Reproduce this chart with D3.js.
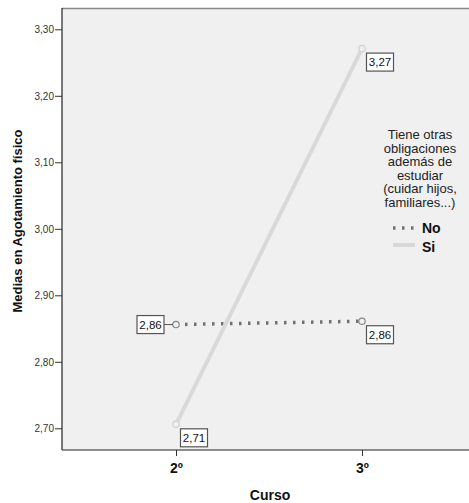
<!DOCTYPE html>
<html><head><meta charset="utf-8">
<script src="https://cdn.jsdelivr.net/npm/d3@7"></script>
<style>body{margin:0;background:#fff}svg{display:block;font-family:"Liberation Sans",Arial,sans-serif}</style>
</head><body>
<svg id="c" width="469" height="503"></svg>
<script>
const categories = ["2º", "3º"];
const seriesNames = ["No", "Si"];
const noValues = [2.856, 2.861];
const siValues = [2.706, 3.271];
const yTicks = [2.70, 2.80, 2.90, 3.00, 3.10, 3.20, 3.30];
const legendTitle = ["Tiene otras", "obligaciones", "además de", "estudiar", "(cuidar hijos,", "familiares...)"];

const svg = d3.select("#c");
const L = 62, R = 469, T = 8, B = 450;
const x = d3.scalePoint().domain(categories).range([176, 362]);
const y = d3.scaleLinear().domain([2.70, 3.30]).range([428.3, 29.3]);
const fmt = v => d3.format(".2f")(v).replace(".", ",");

svg.append("rect").attr("x", L).attr("y", T).attr("width", R - L).attr("height", B - T).attr("fill", "#f0f0f0");
svg.append("line").attr("x1", L).attr("x2", R).attr("y1", T + 0.5).attr("y2", T + 0.5).attr("stroke", "#888").attr("stroke-width", 1.5);

// y axis
const ya = svg.append("g").attr("transform", `translate(${L},0)`)
  .call(d3.axisLeft(y).tickValues(yTicks).tickFormat(fmt).tickSize(7).tickSizeOuter(0));
ya.select(".domain").remove();
ya.selectAll(".tick line").attr("stroke", "#333");
ya.selectAll(".tick text").attr("font-size", 10).attr("fill", "#333").attr("x", -8).attr("font-family", "Liberation Sans, Arial, sans-serif");
svg.append("line").attr("x1", L).attr("x2", L).attr("y1", T).attr("y2", B).attr("stroke", "#222").attr("stroke-width", 1.2);

// x axis
const xa = svg.append("g").attr("transform", `translate(0,${B})`)
  .call(d3.axisBottom(x).tickSize(6).tickSizeOuter(0));
xa.select(".domain").remove();
xa.selectAll(".tick line").attr("stroke", "#333");
xa.selectAll(".tick text").attr("font-size", 14).attr("font-weight", "bold").attr("fill", "#111").attr("y", 9).attr("dy", "1.0em").attr("font-family", "Liberation Sans, Arial, sans-serif");
svg.append("line").attr("x1", L).attr("x2", R).attr("y1", B).attr("y2", B).attr("stroke", "#222").attr("stroke-width", 1.2);

svg.append("text").attr("x", 270).attr("y", 500).attr("text-anchor", "middle").attr("font-size", 14).attr("font-weight", "bold").attr("fill", "#111").text("Curso");
svg.append("text").attr("transform", `translate(21.5,221) rotate(-90)`).attr("text-anchor", "middle").attr("font-size", 13).attr("font-weight", "bold").attr("fill", "#111").text("Medias en Agotamiento físico");

const series = [
  {name: seriesNames[0], values: noValues, color: "#707070", width: 3.5, dash: "2.5,6.5", labelPos: ["left", "br"]},
  {name: seriesNames[1], values: siValues, color: "#d9d9d9", width: 4, dash: null, labelPos: ["br", "br"]}
];
const line = d3.line().x((d, i) => x(categories[i])).y(d => y(d));

series.forEach(s => {
  svg.append("path").datum(s.values).attr("d", line).attr("fill", "none")
    .attr("stroke", s.color).attr("stroke-width", s.width).attr("stroke-dasharray", s.dash);
});
series.forEach(s => {
  s.values.forEach((v, i) => {
    const px = x(categories[i]), py = y(v);
    svg.append("circle").attr("cx", px).attr("cy", py).attr("r", 3.2).attr("fill", "#f0f0f0").attr("stroke", s.color === "#d9d9d9" ? "#d0d0d0" : "#888").attr("stroke-width", 1.2);
  });
});
// labels
series.forEach(s => {
  s.values.forEach((v, i) => {
    const px = x(categories[i]), py = y(v);
    const w = 27, h = 18;
    let bx, by;
    if (s.labelPos[i] === "left") {
      bx = px - 12 - w; by = py - h / 2;
      svg.append("line").attr("x1", bx + w).attr("x2", px - 3).attr("y1", py).attr("y2", py).attr("stroke", "#555").attr("stroke-width", 1);
    } else {
      bx = px + 4.5; by = py + 4.5;
    }
    svg.append("rect").attr("x", bx).attr("y", by).attr("width", w).attr("height", h).attr("fill", "#fff").attr("stroke", "#555").attr("stroke-width", 1.2);
    svg.append("text").attr("x", bx + w / 2).attr("y", by + h / 2 + 4).attr("text-anchor", "middle").attr("font-size", 11.5).attr("fill", "#111").text(fmt(v));
  });
});

// legend
const lg = svg.append("g");
legendTitle.forEach((t, i) => {
  lg.append("text").attr("x", 420).attr("y", 139 + i * 13.6).attr("text-anchor", "middle").attr("font-size", 13).attr("fill", "#222").text(t);
});
series.forEach((s, i) => {
  const yy = 228 + i * 17;
  lg.append("line").attr("x1", 393).attr("x2", 415).attr("y1", yy).attr("y2", yy).attr("stroke", s.color).attr("stroke-width", s.width).attr("stroke-dasharray", s.dash);
  lg.append("text").attr("x", 422).attr("y", yy + 4.5 + i * 2).attr("font-size", 14).attr("font-weight", "bold").attr("fill", "#111").text(s.name);
});
</script>
</body></html>
